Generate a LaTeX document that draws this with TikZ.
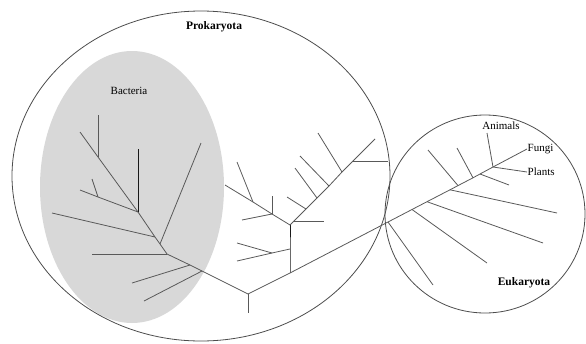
\documentclass[tikz,border=0pt]{standalone}
\usepackage{fontspec}
\setmainfont{Liberation Serif}
\begin{document}
\begin{tikzpicture}[x=1pt,y=-1pt,
  br/.style={draw=black!65,line width=0.8pt},
  dk/.style={draw=black!90,line width=0.8pt},
  lbl/.style={font=\fontsize{11}{13}\selectfont,inner sep=0.5pt},
  blbl/.style={font=\fontsize{11.5}{13}\selectfont\bfseries,inner sep=0.5pt}]
\useasboundingbox (0,0) rectangle (586,343);
% groups
\fill[fill={rgb,255:red,216;green,216;blue,216}] (132,187) ellipse [x radius=92,y radius=136];
\draw[draw=black!70,line width=0.8pt] (201,176) ellipse [x radius=189,y radius=165];
\draw[draw=black!70,line width=0.8pt] (485,214) ellipse [x radius=100,y radius=99];
% labels
\node[blbl] (prok) at (214,27) {Prokaryota};
\node[lbl] (bact) at (129,91) {Bacteria};
\node[blbl] (euk) at (524,283) {Eukaryota};
\node[lbl] (anim) at (501,126) {Animals};
\node[lbl,anchor=west] (fung) at (527,149) {Fungi};
\node[lbl,anchor=west] (plan) at (527,172) {Plants};
% bacteria subtree
\coordinate (b0) at (80,132);
\coordinate (b1) at (98,157);
\coordinate (b1t) at (98,115);
\coordinate (b2) at (138,212);
\coordinate (b2t) at (138,149);
\coordinate (b3l) at (80,190);
\coordinate (b3s) at (98,197);
\coordinate (b3st) at (92,179);
\coordinate (b4) at (155,237);
\coordinate (b4l) at (52,213);
\coordinate (b5) at (160,244);
\coordinate (b5t) at (201,143);
\coordinate (b6) at (167,254);
\coordinate (b6l) at (92,254);
\coordinate (b7) at (190,265);
\coordinate (b7l) at (132,283);
\coordinate (b8) at (202,271);
\coordinate (b8l) at (144,301);
\coordinate (root) at (248,294);
\coordinate (rootd) at (248,313);
\draw[br] (b0) -- (b1) -- (b2) -- (b4) -- (b5) -- (b6) -- (b7) -- (b8) -- (root);
\draw[br] (b1t) -- (b1);
\draw[dk] (b2t) -- (b2);
\draw[br] (b3l) -- (b3s) -- (b2);
\draw[br] (b3st) -- (b3s);
\draw[br] (b4l) -- (b4);
\draw[br] (b5t) -- (b5);
\draw[br] (b6l) -- (b6);
\draw[br] (b7l) -- (b7);
\draw[br] (b8l) -- (b8);
\draw[br] (root) -- (rootd);
% middle (other prokaryota)
\coordinate (m0) at (290,273);
\coordinate (m1) at (290,249);
\coordinate (m1j) at (272,253);
\coordinate (m1a) at (237,243);
\coordinate (m1b) at (237,261);
\coordinate (m2) at (290,225);
\coordinate (m3l) at (225,185);
\coordinate (m3a) at (253,202);
\coordinate (m3at) at (237,162);
\coordinate (m3b) at (272,214);
\coordinate (m3bt) at (272,196);
\coordinate (m3bl) at (242,220);
\coordinate (d1) at (294,221);
\coordinate (d1r) at (324,221);
\coordinate (d2) at (306,209);
\coordinate (d2l) at (287,197);
\coordinate (d3) at (317,198);
\coordinate (d3l) at (295,168);
\coordinate (d4) at (329,186);
\coordinate (d4l) at (300,156);
\coordinate (d5) at (342,172);
\coordinate (d5l) at (318,133);
\coordinate (d6) at (353,161);
\coordinate (d6r) at (388,161);
\coordinate (d7) at (375,139);
\draw[br] (root) -- (m0);
\draw[dk] (m0) -- (m1) -- (m2);
\draw[br] (m1j) -- (m1);
\draw[br] (m1a) -- (m1j);
\draw[br] (m1b) -- (m1j);
\draw[br] (m3l) -- (m3a) -- (m3b) -- (m2);
\draw[br] (m3at) -- (m3a);
\draw[br] (m3bt) -- (m3b);
\draw[br] (m3bl) -- (m3b);
\draw[br] (m2) -- (d1) -- (d2) -- (d3) -- (d4) -- (d5) -- (d6) -- (d7);
\draw[br] (d1) -- (d1r);
\draw[br] (d2l) -- (d2);
\draw[br] (d3l) -- (d3);
\draw[br] (d4l) -- (d4);
\draw[br] (d5l) -- (d5);
\draw[br] (d6) -- (d6r);
% eukaryota
\coordinate (e0) at (388,222);
\coordinate (e0d) at (433,285);
\coordinate (e1) at (412,209.5);
\coordinate (e1d) at (487,263);
\coordinate (e2) at (427,201.7);
\coordinate (e2d) at (543,243);
\coordinate (e3) at (450,189.8);
\coordinate (e3d) at (557,213);
\coordinate (e4) at (458,185.6);
\coordinate (e4u) at (428,150);
\coordinate (e5) at (473,177.8);
\coordinate (e5u) at (457,148);
\coordinate (e6) at (480,174);
\coordinate (e6d) at (509,185);
\coordinate (e7) at (493,167);
\coordinate (anl) at (487,133);
\draw[br] (m0) -- (e0) -- (e1) -- (e2) -- (e3) -- (e4) -- (e5) -- (e6) -- (e7) -- (fung.west);
\draw[br] (e0) -- (e0d);
\draw[br] (e1) -- (e1d);
\draw[br] (e2) -- (e2d);
\draw[br] (e3) -- (e3d);
\draw[br] (e4u) -- (e4);
\draw[br] (e5u) -- (e5);
\draw[br] (e6) -- (e6d);
\draw[br] (e7) -- (anl);
\draw[br] (e7) -- (plan.west);
\end{tikzpicture}
\end{document}
